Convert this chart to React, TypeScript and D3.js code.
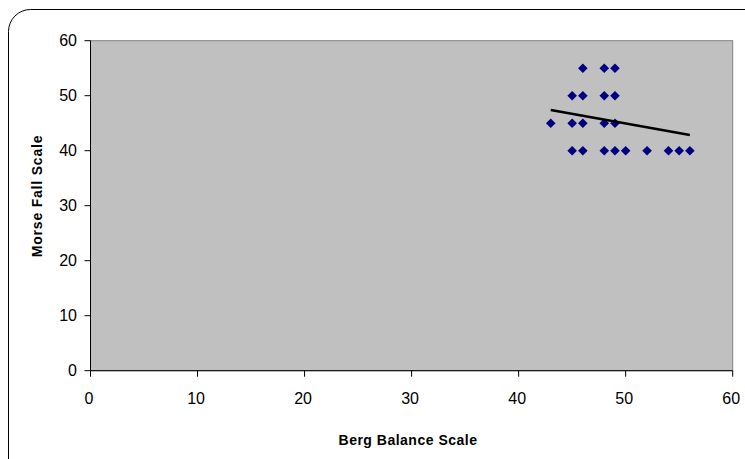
import React from "react";
import * as d3 from "d3";

const bergValues = [46, 48, 49, 45, 46, 48, 49, 43, 45, 46, 48, 49, 45, 46, 48, 49, 50, 52, 54, 55, 56];
const morseValues = [55, 55, 55, 50, 50, 50, 50, 45, 45, 45, 45, 45, 40, 40, 40, 40, 40, 40, 40, 40, 40];
const trendX = [43, 56];
const trendY = [47.4, 42.85];
const xTicks = [0, 10, 20, 30, 40, 50, 60];
const yTicks = [0, 10, 20, 30, 40, 50, 60];

const W = 745;
const H = 459;
const left = 90.5;
const right = 732.7;
const top = 40.7;
const bottom = 370.7;

export default function App() {
  const x = d3.scaleLinear().domain([0, 60]).range([left, right]);
  const y = d3.scaleLinear().domain([0, 60]).range([bottom, top]);
  const r = 4.8;
  const diamond = `M0,${-r}L${r},0L0,${r}L${-r},0Z`;
  const line = d3.line<number>().x((_, i) => x(trendX[i])).y((d) => y(d));
  const font = "Arial, 'Liberation Sans', sans-serif";
  return (
    <div style={{ position: "fixed", left: 0, top: 0 }}>
      <svg width={W} height={H} style={{ display: "block" }} fontFamily={font}>
        <rect x={0} y={0} width={W} height={H} fill="#fff" />
        <rect x={8.5} y={9.5} width={W + 20} height={H + 20} rx={22} fill="#fff" stroke="#000" strokeWidth={1} />
        <rect x={left} y={top} width={right - left} height={bottom - top} fill="#c0c0c0" stroke="#808080" strokeWidth={1} />
        <line x1={left} x2={left} y1={top} y2={bottom} stroke="#000" />
        <line x1={left} x2={right} y1={bottom} y2={bottom} stroke="#000" />
        {yTicks.map((t) => (
          <g key={"y" + t}>
            <line x1={left - 6} x2={left} y1={y(t)} y2={y(t)} stroke="#000" />
            <text x={77} y={y(t)} dy="0.35em" textAnchor="end" fontSize={16}>
              {t}
            </text>
          </g>
        ))}
        {xTicks.map((t) => (
          <g key={"x" + t}>
            <line x1={x(t)} x2={x(t)} y1={bottom} y2={bottom + 6} stroke="#000" />
            <text x={x(t) - 1.5} y={404} textAnchor="middle" fontSize={16}>
              {t}
            </text>
          </g>
        ))}
        {bergValues.map((b, i) => (
          <path key={i} d={diamond} transform={`translate(${x(b)},${y(morseValues[i])})`} fill="#000080" />
        ))}
        <path d={line(trendY) || ""} fill="none" stroke="#000" strokeWidth={2.5} />
        <text x={408} y={445} textAnchor="middle" fontSize={14} fontWeight="bold" letterSpacing={0.5}>
          Berg Balance Scale
        </text>
        <text transform="translate(42,196) rotate(-90)" textAnchor="middle" fontSize={14} fontWeight="bold" letterSpacing={0.8}>
          Morse Fall Scale
        </text>
      </svg>
    </div>
  );
}
